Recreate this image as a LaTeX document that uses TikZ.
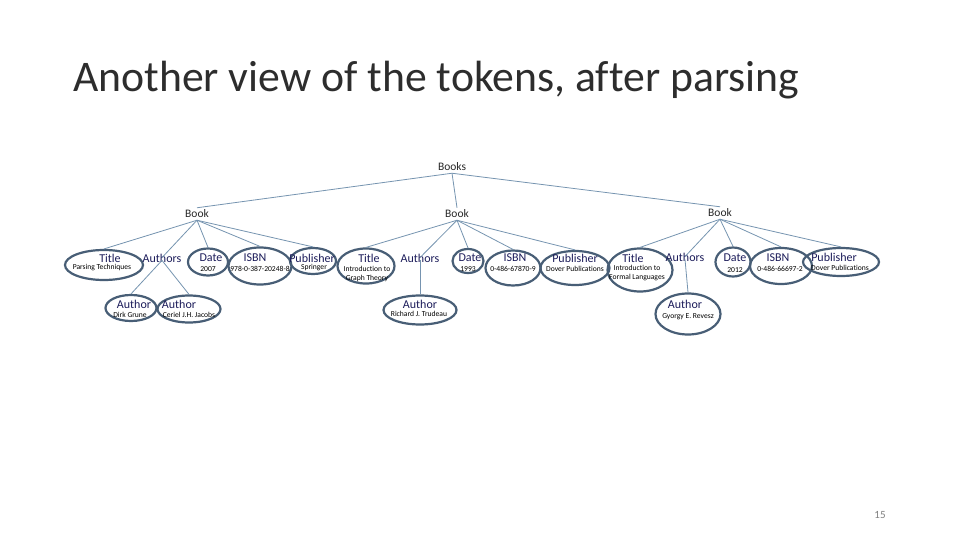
\documentclass[tikz,border=0pt]{standalone}
\usepackage{fontspec}
\setmainfont[Ligatures=NoCommon]{Carlito}
\newfontfamily\titlefont[Ligatures=NoCommon]{Carlito}
\usetikzlibrary{shapes.geometric}
\definecolor{ellcol}{RGB}{72,94,118}
\definecolor{linecol}{RGB}{118,148,176}
\definecolor{labcol}{RGB}{28,28,90}
\definecolor{bookcol}{RGB}{40,40,40}
\definecolor{titlecol}{RGB}{45,45,45}
\tikzset{
  ell/.style={ellipse,draw=ellcol,line width=2.2pt,inner sep=0pt},
  lab/.style={inner sep=0pt,text=labcol,font=\fontsize{12}{13}\selectfont},
  sml/.style={inner sep=0pt,text=black,font=\fontsize{7.6}{9}\selectfont,align=center},
  bk/.style={inner sep=2pt,text=bookcol,font=\fontsize{11.5}{12}\selectfont},
  conn/.style={draw=linecol,line width=0.8pt},
}
\begin{document}
\begin{tikzpicture}[x=1pt,y=-1pt]
\useasboundingbox (0,0) rectangle (960,540);
\fill[white] (0,0) rectangle (960,540);
\node[inner sep=0pt,anchor=west,text=titlecol,font=\titlefont\fontsize{43.7}{48}\selectfont] (title) at (73,80) {Another view of the tokens, after parsing};
\node[inner sep=0pt,text=gray,font=\fontsize{11}{12}\selectfont] (pg) at (880,515) {15};

% root and books
\node[bk] (books) at (452,167) {Books};
\node[bk] (book1) at (197,214) {Book};
\node[bk] (book2) at (457,214) {Book};
\node[bk] (book3) at (720,213) {Book};

% ---- Book 1
\node[ell,minimum width=78pt,minimum height=30pt] (t1) at (104,265) {};
\node[lab] (t1l) at (110,258) {Title};
\node[sml] (t1v) at (102,268) {Parsing Techniques};
\node[lab] (a1) at (162,258) {Authors};
\node[ell,minimum width=40pt,minimum height=27pt] (d1) at (208,262) {};
\node[lab] (d1l) at (211,258) {Date};
\node[sml] (d1v) at (208,269) {2007};
\node[ell,minimum width=63pt,minimum height=37pt] (i1) at (260,266) {};
\node[lab] (i1l) at (255,258) {ISBN};
\node[sml] (i1v) at (260,269) {978-0-387-20248-8};
\node[ell,minimum width=46pt,minimum height=26pt] (p1) at (313,261) {};
\node[lab] (p1l) at (312,258) {Publisher};
\node[sml] (p1v) at (314,268) {Springer};
\node[ell,minimum width=51pt,minimum height=26pt] (au1a) at (131,308) {};
\node[lab] (au1al) at (134,304) {Author};
\node[sml] (au1av) at (130,315) {Dirk Grune};
\node[ell,minimum width=63pt,minimum height=27pt] (au1b) at (189,309) {};
\node[lab] (au1bl) at (179,304) {Author};
\node[sml] (au1bv) at (189,315) {Ceriel J.H. Jacobs};

% ---- Book 2
\node[ell,minimum width=57pt,minimum height=35pt] (t2) at (366,266) {};
\node[lab] (t2l) at (369,258) {Title};
\node[sml] (t2v) at (367,273.5) {Introduction to\\Graph Theory};
\node[lab] (a2) at (420,258) {Authors};
\node[ell,minimum width=31pt,minimum height=24pt] (d2) at (468,261) {};
\node[lab] (d2l) at (470,258) {Date};
\node[sml] (d2v) at (468,269) {1993};
\node[ell,minimum width=55pt,minimum height=35pt] (i2) at (513,268) {};
\node[lab] (i2l) at (515,258) {ISBN};
\node[sml] (i2v) at (513,269) {0-486-67870-9};
\node[ell,minimum width=69pt,minimum height=34pt] (p2) at (575,268) {};
\node[lab] (p2l) at (575,258) {Publisher};
\node[sml] (p2v) at (575,269) {Dover Publications};
\node[ell,minimum width=73pt,minimum height=29pt] (au2) at (420,310) {};
\node[lab] (au2l) at (420,304) {Author};
\node[sml] (au2v) at (419,314) {Richard J. Trudeau};

% ---- Book 3
\node[ell,minimum width=65pt,minimum height=43pt] (t3) at (640,270) {};
\node[lab] (t3l) at (633,258) {Title};
\node[sml] (t3v) at (637,273) {Introduction to\\Formal Languages};
\node[lab] (a3) at (685,257) {Authors};
\node[ell,minimum width=35pt,minimum height=29pt] (d3) at (733,262) {};
\node[lab] (d3l) at (735,258) {Date};
\node[sml] (d3v) at (735,270) {2012};
\node[ell,minimum width=62pt,minimum height=36pt] (i3) at (781,266) {};
\node[lab] (i3l) at (778,258) {ISBN};
\node[sml] (i3v) at (780,269) {0-486-66697-2};
\node[ell,minimum width=76pt,minimum height=28pt] (p3) at (841,262) {};
\node[lab] (p3l) at (834,257) {Publisher};
\node[sml] (p3v) at (840,268) {Dover Publications};
\node[ell,minimum width=65pt,minimum height=41pt] (au3) at (688,314) {};
\node[lab] (au3l) at (685,304) {Author};
\node[sml] (au3v) at (688,317) {Gyorgy E. Revesz};

% ---- connectors
\draw[conn] (books.south) -- (book1.north);
\draw[conn] (books.south) -- (book2.north);
\draw[conn] (books.south) -- (book3.north);
\foreach \b/\c in {book1/t1, book1/d1, book1/i1, book1/p1,
                   book2/t2, book2/d2, book2/i2, book2/p2,
                   book3/t3, book3/d3, book3/i3, book3/p3}
  \draw[conn] (\b.south) -- (\c.north);
\draw[conn] (book1.south) -- ([yshift=-4pt]a1.north);
\draw[conn] (book2.south) -- ([yshift=-4pt]a2.north);
\draw[conn] (book3.south) -- ([yshift=-4pt]a3.north);
\draw[conn] ([yshift=2pt]a1.south) -- (au1a.north);
\draw[conn] ([yshift=2pt]a1.south) -- (au1b.north);
\draw[conn] ([yshift=2pt]a2.south) -- (au2.north);
\draw[conn] ([yshift=2pt]a3.south) -- (au3.north);
\end{tikzpicture}
\end{document}
